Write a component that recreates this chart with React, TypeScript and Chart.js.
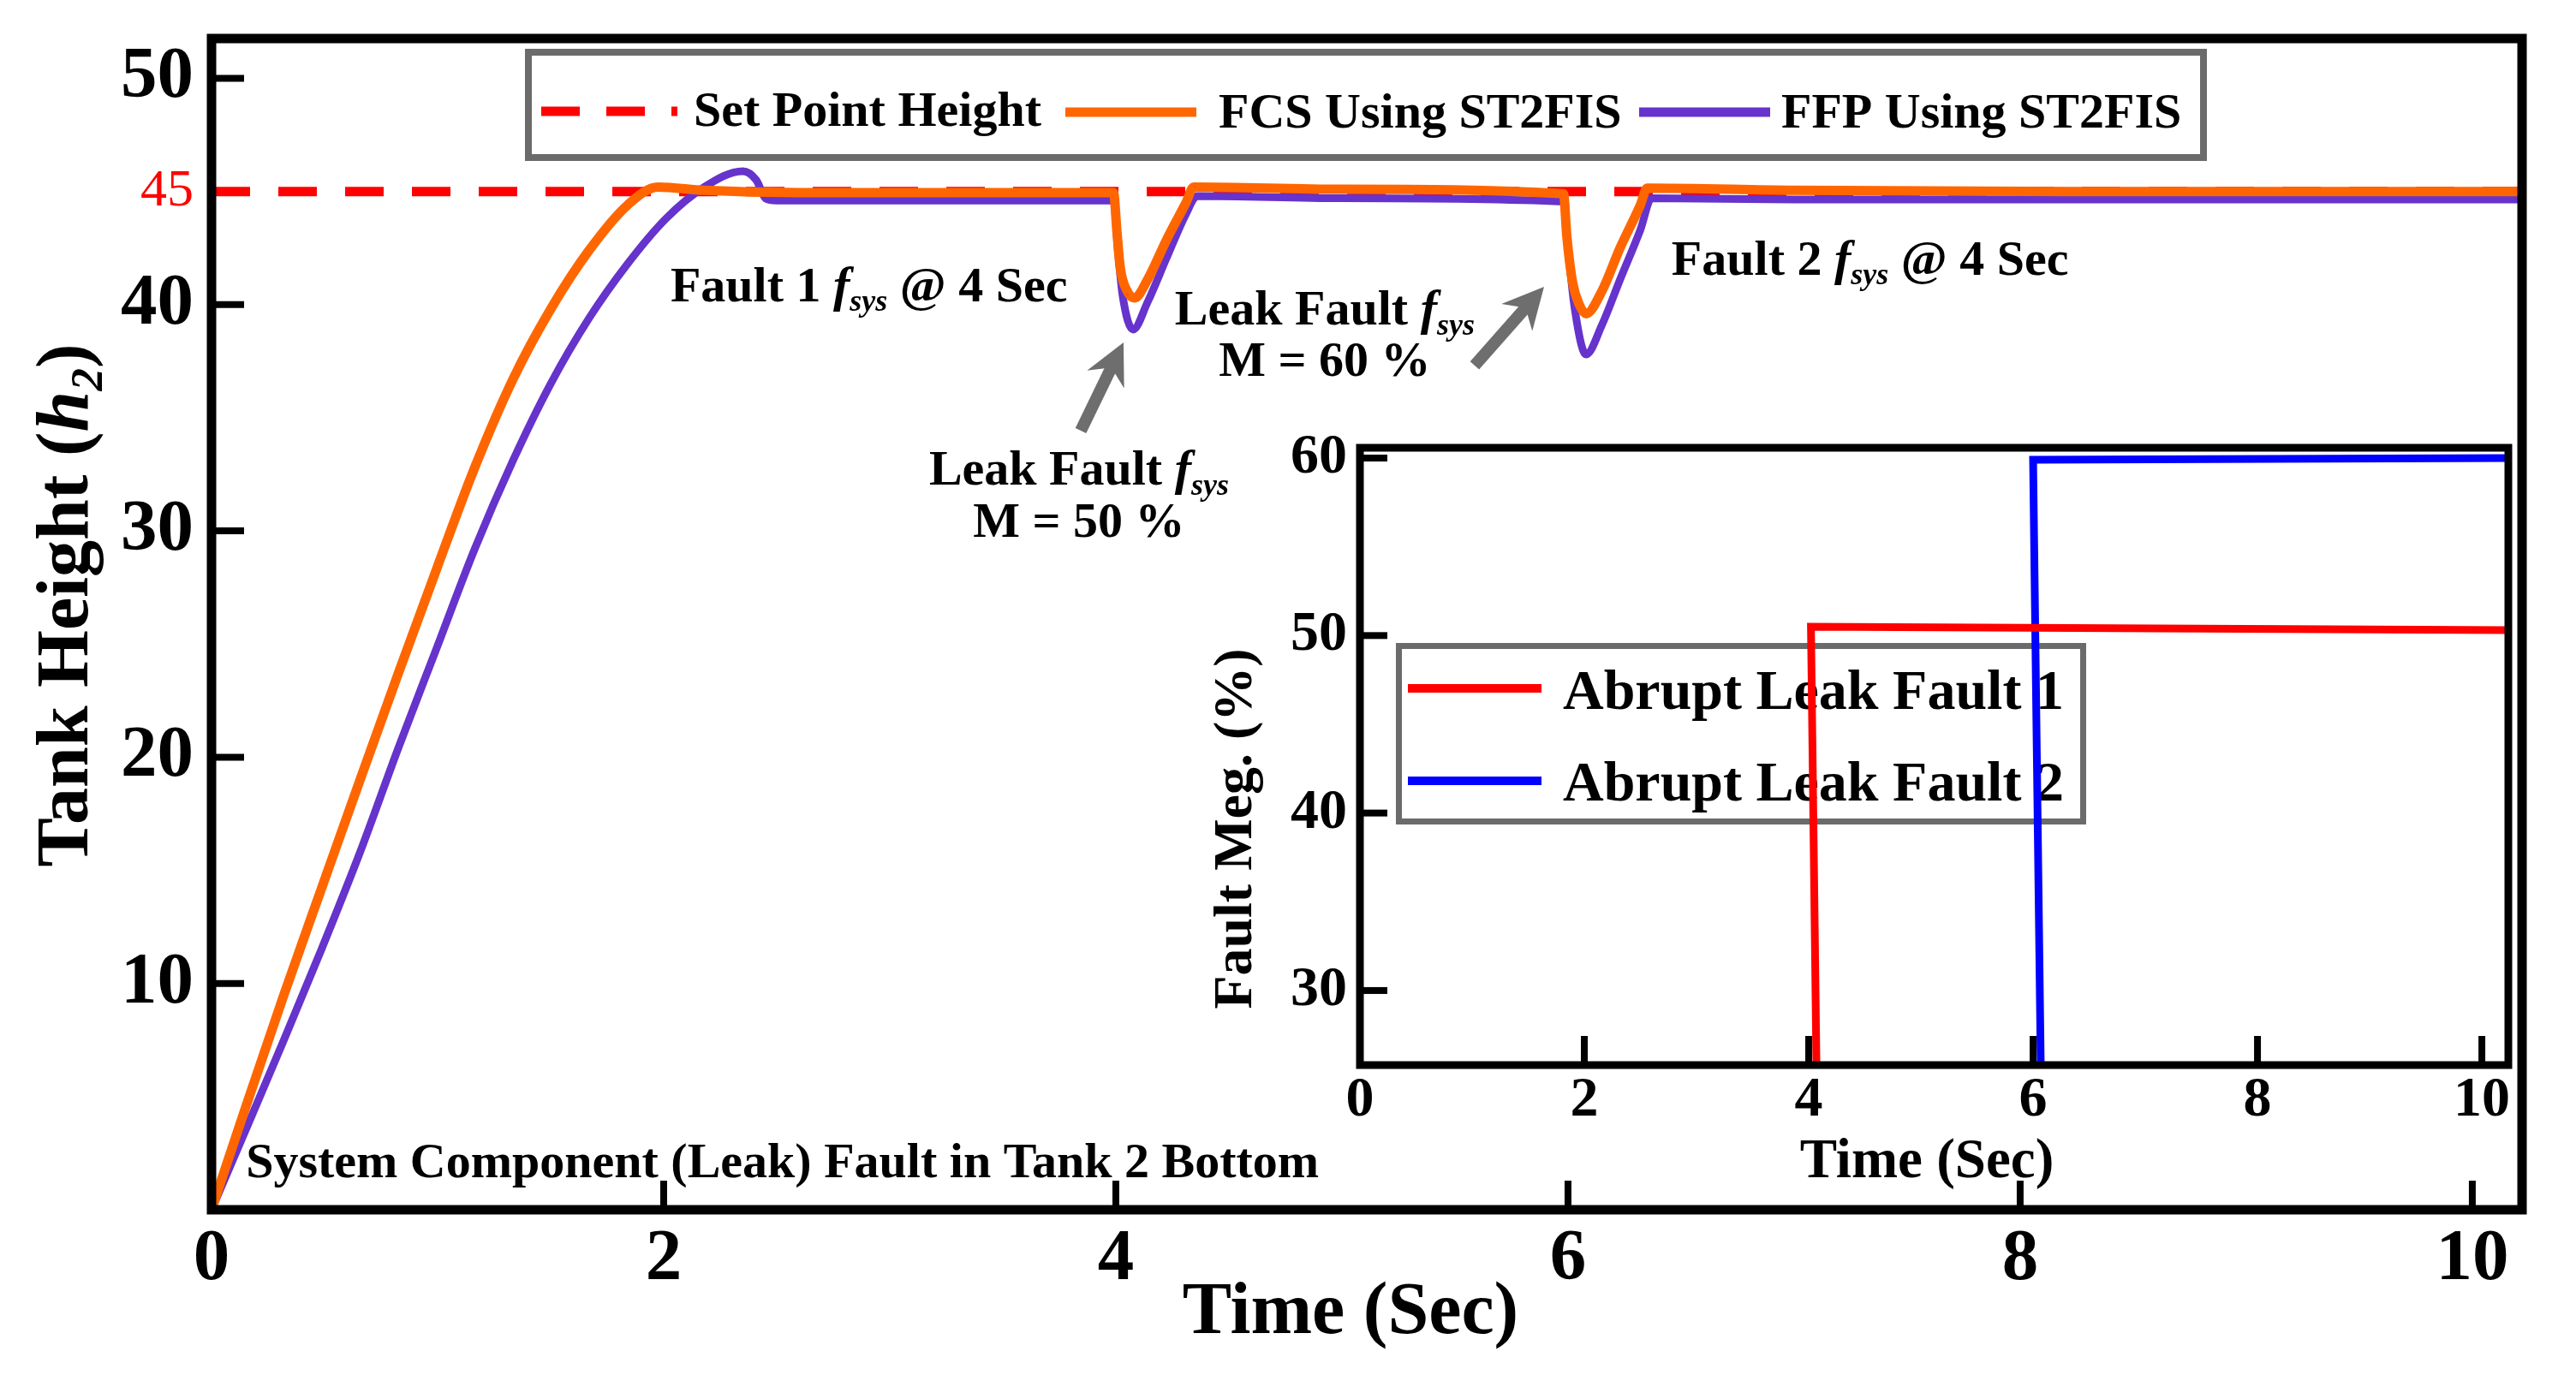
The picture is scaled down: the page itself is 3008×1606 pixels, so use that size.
import React, { useEffect, useRef } from "react";
import { Chart, registerables } from "chart.js";

Chart.register(...registerables);

const FONT = '"Liberation Serif", "Times New Roman", Times, serif';

// ---------- Main chart data ----------
const fcsTime = [0, 0.15, 0.32, 0.49, 0.657, 0.826, 0.995, 1.164, 1.333, 1.5, 1.67, 1.84, 1.975, 2.18, 2.6, 3.2, 3.99, 4.005, 4.02, 4.05, 4.083, 4.14, 4.226, 4.31, 4.345, 5.0, 5.98, 5.995, 6.02, 6.05, 6.08, 6.15, 6.23, 6.32, 6.35, 7.0, 8.5, 10.25];
const fcsHeight = [0, 4.5, 9.5, 14.3, 19.0, 23.7, 28.3, 32.8, 36.7, 39.8, 42.4, 44.4, 45.2, 45.05, 44.95, 44.95, 44.95, 43.2, 41.6, 40.6, 40.3, 41.1, 42.9, 44.5, 45.2, 45.1, 44.9, 43.0, 41.0, 40.0, 39.6, 40.6, 42.5, 44.4, 45.15, 45.05, 45.0, 45.0];

const ffpTime = [0, 0.15, 0.32, 0.49, 0.657, 0.826, 0.995, 1.164, 1.333, 1.5, 1.67, 1.84, 2.01, 2.18, 2.35, 2.41, 2.45, 2.5, 3.2, 3.99, 4.01, 4.03, 4.076, 4.14, 4.226, 4.31, 4.36, 5.0, 5.98, 6.0, 6.03, 6.08, 6.15, 6.23, 6.32, 6.37, 7.0, 8.5, 10.25];
const ffpHeight = [0, 3.5, 7.5, 11.6, 15.8, 20.4, 24.8, 29.2, 33.1, 36.5, 39.4, 41.8, 43.8, 45.2, 45.9, 45.5, 44.7, 44.6, 44.6, 44.6, 42.3, 40.4, 38.9, 40.1, 42.1, 44.0, 44.8, 44.7, 44.55, 42.5, 39.8, 37.8, 39.1, 41.1, 43.3, 44.7, 44.65, 44.65, 44.65];

const setPointTime = [0, 10.25];
const setPointHeight = [45, 45];

const mainXTicks = [0, 2, 4, 6, 8, 10];
const mainYTicks = [10, 20, 30, 40, 45, 50];

// ---------- Inset data ----------
const fault1Time = [0, 4.12, 4.02, 10.25];
const fault1Mag = [0, 0, 50.5, 50.3];
const fault2Time = [0, 6.12, 6.0, 10.25];
const fault2Mag = [0, 0, 59.9, 60.0];

const insetXTicks = [0, 2, 4, 6, 8, 10];
const insetYTicks = [30, 40, 50, 60];

const pts = (xs: number[], ys: number[]) => xs.map((x, i) => ({ x, y: ys[i] }));

type Part = { t: string; it?: boolean; sub?: boolean };

function partFont(p: Part, size: number, weight: string) {
  const s = p.sub ? Math.round(size * 0.62) : size;
  return `${p.it ? "italic " : ""}${weight} ${s}px ${FONT}`;
}

function drawRich(ctx: CanvasRenderingContext2D, parts: Part[], x: number, y: number, size: number, align = "left", weight = "bold", color = "#000") {
  ctx.save();
  let w = 0;
  for (const p of parts) {
    ctx.font = partFont(p, size, weight);
    w += ctx.measureText(p.t).width;
  }
  let cx = align === "center" ? x - w / 2 : align === "right" ? x - w : x;
  ctx.textAlign = "left";
  ctx.textBaseline = "alphabetic";
  ctx.fillStyle = color;
  for (const p of parts) {
    ctx.font = partFont(p, size, weight);
    ctx.fillText(p.t, cx, y + (p.sub ? size * 0.2 : 0));
    cx += ctx.measureText(p.t).width;
  }
  ctx.restore();
}

function drawArrow(ctx: CanvasRenderingContext2D, x1: number, y1: number, x2: number, y2: number, color: string) {
  const ang = Math.atan2(y2 - y1, x2 - x1);
  const len = Math.hypot(x2 - x1, y2 - y1);
  const headLen = 48, headW = 24, shaft = 14;
  ctx.save();
  ctx.translate(x2, y2);
  ctx.rotate(ang);
  ctx.fillStyle = color;
  ctx.fillRect(-len, -shaft / 2, len - headLen * 0.6, shaft);
  ctx.beginPath();
  ctx.moveTo(0, 0);
  ctx.lineTo(-headLen, -headW);
  ctx.lineTo(-headLen * 0.68, 0);
  ctx.lineTo(-headLen, headW);
  ctx.closePath();
  ctx.fill();
  ctx.restore();
}

function line(ctx: CanvasRenderingContext2D, x1: number, y1: number, x2: number, y2: number) {
  ctx.beginPath();
  ctx.moveTo(x1, y1);
  ctx.lineTo(x2, y2);
  ctx.stroke();
}

const fsys: Part[] = [{ t: "f", it: true }, { t: "sys", it: true, sub: true }];

const mainDecor = {
  id: "mainDecor",
  afterDraw(chart: any) {
    const { ctx, chartArea: a } = chart;
    const xs = chart.scales.x, ys = chart.scales.y;
    const P = (t: number, h: number): [number, number] => [xs.getPixelForValue(t), ys.getPixelForValue(h)];
    ctx.save();
    // inward ticks
    ctx.strokeStyle = "#000";
    ctx.lineWidth = 8;
    for (const v of mainXTicks.filter((v) => v !== 0)) {
      const px = xs.getPixelForValue(v);
      line(ctx, px, a.bottom, px, a.bottom - 34);
    }
    for (const v of mainYTicks.filter((v) => v !== 45)) {
      const py = ys.getPixelForValue(v);
      line(ctx, a.left, py, a.left + 38, py);
    }
    // frame
    ctx.lineWidth = 11;
    ctx.strokeRect(a.left, a.top, a.right - a.left, a.bottom - a.top);

    // legend
    const ds = chart.data.datasets;
    ctx.fillStyle = "#fff";
    ctx.fillRect(617, 61, 1956, 123);
    ctx.strokeStyle = "#6b6b6b";
    ctx.lineWidth = 8;
    ctx.strokeRect(617, 61, 1956, 123);
    ctx.lineWidth = 11;
    ctx.strokeStyle = ds[2].borderColor;
    ctx.setLineDash([45, 31]);
    line(ctx, 632, 130, 791, 130);
    ctx.setLineDash([]);
    drawRich(ctx, [{ t: ds[2].label }], 810, 147, 58);
    ctx.strokeStyle = ds[0].borderColor;
    line(ctx, 1244, 131, 1397, 131);
    drawRich(ctx, [{ t: ds[0].label }], 1423, 149, 58);
    ctx.strokeStyle = ds[1].borderColor;
    line(ctx, 1914, 131, 2067, 131);
    drawRich(ctx, [{ t: ds[1].label }], 2080, 149, 58);

    // annotations
    drawRich(ctx, [{ t: "Fault 1 " }, ...fsys, { t: " @ 4 Sec" }], ...P(2.03, 40.15), 58);
    drawRich(ctx, [{ t: "Fault 2 " }, ...fsys, { t: " @ 4 Sec" }], ...P(6.458, 41.33), 58);
    drawRich(ctx, [{ t: "Leak Fault " }, ...fsys], ...P(4.924, 39.12), 58, "center");
    drawRich(ctx, [{ t: "M = 60 %" }], ...P(4.924, 36.85), 58, "center");
    drawRich(ctx, [{ t: "Leak Fault " }, ...fsys], ...P(3.837, 32.05), 58, "center");
    drawRich(ctx, [{ t: "M = 50 %" }], ...P(3.837, 29.74), 58, "center");
    drawRich(ctx, [{ t: "System Component (Leak) Fault in Tank 2 Bottom" }], ...P(0.152, 1.44), 58);

    const [a1x, a1y] = P(3.845, 34.43), [h1x, h1y] = P(4.034, 38.33);
    drawArrow(ctx, a1x, a1y, h1x, h1y, "#6e6e6e");
    const [a2x, a2y] = P(5.587, 37.31), [h2x, h2y] = P(5.894, 40.79);
    drawArrow(ctx, a2x, a2y, h2x, h2y, "#6e6e6e");

    // axis titles
    drawRich(ctx, [{ t: "Time (Sec)" }], 1577, 1557, 86, "center");
    ctx.save();
    ctx.translate(102, 707);
    ctx.rotate(-Math.PI / 2);
    drawRich(ctx, [{ t: "Tank Height (" }, { t: "h", it: true }, { t: "2", it: true, sub: true }, { t: ")" }], 0, 0, 86, "center");
    ctx.restore();
    ctx.restore();
  },
};

const insetDecor = {
  id: "insetDecor",
  beforeDatasetsDraw(chart: any) {
    const { ctx } = chart;
    const ds = chart.data.datasets;
    ctx.save();
    ctx.strokeStyle = "#6b6b6b";
    ctx.lineWidth = 7;
    ctx.strokeRect(253.5, 274.5, 799, 205);
    ctx.lineWidth = 10;
    ctx.strokeStyle = ds[0].borderColor;
    line(ctx, 264, 324, 420, 324);
    drawRich(ctx, [{ t: ds[0].label }], 445, 348, 66);
    ctx.strokeStyle = ds[1].borderColor;
    line(ctx, 264, 432, 420, 432);
    drawRich(ctx, [{ t: ds[1].label }], 445, 455, 66);
    ctx.restore();
  },
  afterDraw(chart: any) {
    const { ctx, chartArea: a } = chart;
    const xs = chart.scales.x, ys = chart.scales.y;
    ctx.save();
    ctx.strokeStyle = "#000";
    ctx.lineWidth = 8;
    for (const v of insetXTicks.filter((v) => v !== 0)) {
      const px = xs.getPixelForValue(v);
      line(ctx, px, a.bottom, px, a.bottom - 34);
    }
    for (const v of insetYTicks) {
      const py = ys.getPixelForValue(v);
      line(ctx, a.left, py, a.left + 32, py);
    }
    ctx.lineWidth = 9;
    ctx.strokeRect(a.left, a.top, a.right - a.left, a.bottom - a.top);
    drawRich(ctx, [{ t: "Time (Sec)" }], 870, 895, 65, "center");
    ctx.save();
    ctx.translate(81, 488);
    ctx.rotate(-Math.PI / 2);
    drawRich(ctx, [{ t: "Fault Meg. (%)" }], 0, 0, 64, "center");
    ctx.restore();
    ctx.restore();
  },
};

function mainConfig(): any {
  return {
    type: "line",
    data: {
      datasets: [
        { label: "FCS Using ST2FIS", data: pts(fcsTime, fcsHeight), borderColor: "#FF6600", borderWidth: 11, pointRadius: 0, cubicInterpolationMode: "monotone", order: 0 },
        { label: "FFP Using ST2FIS", data: pts(ffpTime, ffpHeight), borderColor: "#6633CC", borderWidth: 9, pointRadius: 0, cubicInterpolationMode: "monotone", order: 1 },
        { label: "Set Point Height", data: pts(setPointTime, setPointHeight), borderColor: "#FF0000", borderWidth: 11, borderDash: [45, 33], pointRadius: 0, order: 2 },
      ],
    },
    options: {
      animation: false,
      responsive: false,
      devicePixelRatio: 1,
      layout: { padding: { top: 45, right: 63, left: 0, bottom: 0 } },
      plugins: { legend: { display: false }, tooltip: { enabled: false } },
      scales: {
        x: {
          type: "linear",
          min: 0,
          max: 10.22,
          grid: { display: false, drawTicks: false },
          border: { display: false },
          afterBuildTicks: (s: any) => { s.ticks = mainXTicks.map((v) => ({ value: v })); },
          afterFit: (s: any) => { s.height = 193; s.paddingLeft = 0; s.paddingRight = 0; },
          ticks: { font: { family: FONT, size: 85, weight: "bold" }, color: "#000", padding: 8, autoSkip: false, maxRotation: 0, callback: (v: any) => String(v) },
        },
        y: {
          type: "linear",
          min: 0,
          max: 51.76,
          grid: { display: false, drawTicks: false },
          border: { display: false },
          afterBuildTicks: (s: any) => { s.ticks = mainYTicks.map((v) => ({ value: v })); },
          afterFit: (s: any) => { s.width = 247; s.paddingTop = 0; s.paddingBottom = 0; },
          ticks: {
            font: (c: any) => (c.tick && c.tick.value === 45 ? { family: FONT, size: 62, weight: "normal" } : { family: FONT, size: 85, weight: "bold" }),
            color: (c: any) => (c.tick && c.tick.value === 45 ? "#FF0000" : "#000"),
            padding: 21,
            autoSkip: false,
            callback: (v: any) => String(v),
          },
        },
      },
    },
    plugins: [mainDecor],
  };
}

function insetConfig(): any {
  return {
    type: "line",
    data: {
      datasets: [
        { label: "Abrupt Leak Fault 1", data: pts(fault1Time, fault1Mag), borderColor: "#FF0000", borderWidth: 9, pointRadius: 0, tension: 0 },
        { label: "Abrupt Leak Fault 2", data: pts(fault2Time, fault2Mag), borderColor: "#0000FF", borderWidth: 9, pointRadius: 0, tension: 0 },
      ],
    },
    options: {
      animation: false,
      responsive: false,
      devicePixelRatio: 1,
      layout: { padding: { top: 43, right: 51, left: 0, bottom: 0 } },
      plugins: { legend: { display: false }, tooltip: { enabled: false } },
      scales: {
        x: {
          type: "linear",
          min: 0,
          max: 10.236,
          grid: { display: false, drawTicks: false },
          border: { display: false },
          afterBuildTicks: (s: any) => { s.ticks = insetXTicks.map((v) => ({ value: v })); },
          afterFit: (s: any) => { s.height = 176; s.paddingLeft = 0; s.paddingRight = 0; },
          ticks: { font: { family: FONT, size: 66, weight: "bold" }, color: "#000", padding: 2, autoSkip: false, maxRotation: 0, callback: (v: any) => String(v) },
        },
        y: {
          type: "linear",
          min: 25.8,
          max: 60.58,
          grid: { display: false, drawTicks: false },
          border: { display: false },
          afterBuildTicks: (s: any) => { s.ticks = insetYTicks.map((v) => ({ value: v })); },
          afterFit: (s: any) => { s.width = 208; s.paddingTop = 0; s.paddingBottom = 0; },
          ticks: { font: { family: FONT, size: 66, weight: "bold" }, color: "#000", padding: 15, autoSkip: false, callback: (v: any) => String(v) },
        },
      },
    },
    plugins: [insetDecor],
  };
}

export default function App() {
  const mainRef = useRef<HTMLCanvasElement>(null);
  const insetRef = useRef<HTMLCanvasElement>(null);
  useEffect(() => {
    const main = new Chart(mainRef.current as HTMLCanvasElement, mainConfig());
    const inset = new Chart(insetRef.current as HTMLCanvasElement, insetConfig());
    return () => {
      main.destroy();
      inset.destroy();
    };
  }, []);
  return (
    <div style={{ position: "absolute", left: 0, top: 0, width: 3008, height: 1606, background: "#fff", overflow: "hidden" }}>
      <canvas ref={mainRef} width={3008} height={1606} style={{ position: "absolute", left: 0, top: 0, width: 3008, height: 1606 }} />
      <canvas ref={insetRef} width={1600} height={940} style={{ position: "absolute", left: 1380, top: 480, width: 1600, height: 940 }} />
    </div>
  );
}
